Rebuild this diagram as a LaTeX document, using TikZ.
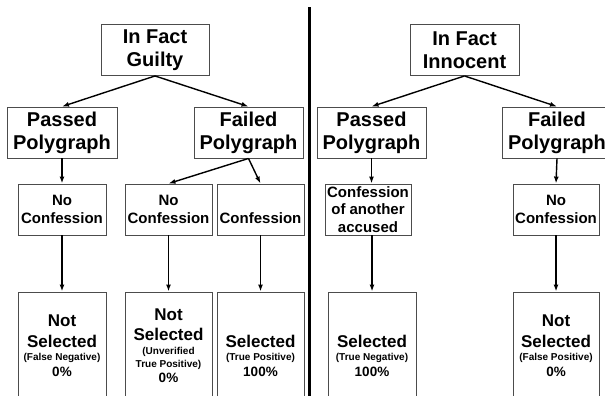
\documentclass[tikz,border=0pt]{standalone}
\usepackage{fontspec}
\setmainfont{Liberation Sans}
\usetikzlibrary{arrows.meta}
\begin{document}
\begin{tikzpicture}[x=1pt,y=-1pt,
	box/.style={draw=gray!60!black,line width=.9pt,align=center,inner sep=0pt},
	big/.style={box,minimum height=51pt,font=\bfseries\fontsize{20}{23}\selectfont},
	mid/.style={box,minimum height=51pt,font=\bfseries\fontsize{15}{17.6}\selectfont},
	res/.style={box,minimum height=108pt,font=\bfseries\fontsize{17}{21}\selectfont},
	arr/.style={-{Latex[length=7pt,width=5pt]},line width=1.4pt}]
		\useasboundingbox (0,0) rectangle (605,396);
		% guilty side
		\node[big,minimum width=108pt] (guilty) at (155,50) {In Fact\\Guilty};
		\node[big,minimum width=110pt] (passG) at (62,132.5) {Passed\\Polygraph};
		\node[big,minimum width=109pt] (failG) at (248.5,132.5) {Failed\\Polygraph};
		\node[mid,minimum width=88pt] (noconfA) at (62,209.5) {No\\Confession};
		\node[mid,minimum width=87pt] (noconfB) at (168.5,209.5) {No\\Confession};
		\node[mid,minimum width=87pt] (confB) at (260.5,209.5) {\phantom{No}\\Confession};
		\node[res,minimum width=88pt] (fneg) at (62,346) {Not\\Selected\\[-8pt]{\fontsize{10}{12}\selectfont(False Negative)}\\[-5pt]{\fontsize{13.5}{16}\selectfont 0\%}};
		\node[res,minimum width=87pt] (unver) at (168.5,346) {Not\\[-1pt]Selected\\[-7pt]{\fontsize{10}{12}\selectfont(Unverified}\\[-8pt]{\fontsize{10}{12}\selectfont True Positive)}\\[-6pt]{\fontsize{13.5}{16}\selectfont 0\%}};
		\node[res,minimum width=87pt] (tpos) at (260.5,346) {\phantom{Not}\\Selected\\[-8pt]{\fontsize{10}{12}\selectfont(True Positive)}\\[-5pt]{\fontsize{13.5}{16}\selectfont 100\%}};
		
		\draw[arr] (guilty.south) -- (passG.north);
		\draw[arr] (guilty.south) -- (failG.north);
		\draw[arr] (passG.south) -- (noconfA.north);
		\draw[arr] (failG.south) -- (noconfB.north);
		\draw[arr] (failG.south) -- (confB.north);
		\draw[arr] (noconfA.south) -- (fneg.north);
		\draw[arr] (noconfB.south) -- (unver.north);
		\draw[arr] (confB.south) -- (tpos.north);
		
		% divider
		\draw[line width=2.5pt] (309.7,7.5) -- (309.7,396);
		
		% innocent side
		\node[big,minimum width=109pt] (innoc) at (464.5,50) {In Fact\\Innocent};
		\node[big,minimum width=109pt] (passI) at (371.5,132.5) {Passed\\Polygraph};
		\node[big,minimum width=110pt] (failI) at (557,132.5) {Failed\\Polygraph};
		\node[mid,minimum width=86pt] (confO) at (368,209.5) {Confession\\of another\\accused};
		\node[mid,minimum width=86pt] (noconfI) at (556,209.5) {No\\Confession};
		\node[res,minimum width=88pt] (tneg) at (372,346) {\phantom{Not}\\Selected\\[-8pt]{\fontsize{10}{12}\selectfont(True Negative)}\\[-5pt]{\fontsize{13.5}{16}\selectfont 100\%}};
		\node[res,minimum width=86pt] (fpos) at (556,346) {Not\\Selected\\[-8pt]{\fontsize{10}{12}\selectfont(False Positive)}\\[-5pt]{\fontsize{13.5}{16}\selectfont 0\%}};
		
		\draw[arr] (innoc.south) -- (passI.north);
		\draw[arr] (innoc.south) -- (failI.north);
		\draw[arr] (passI.south) -- (passI.south |- confO.north);
		\draw[arr] (failI.south) -- (noconfI.north);
		\draw[arr] (tneg.north |- confO.south) -- (tneg.north);
		\draw[arr] (noconfI.south) -- (fpos.north);
\end{tikzpicture}
\end{document}
